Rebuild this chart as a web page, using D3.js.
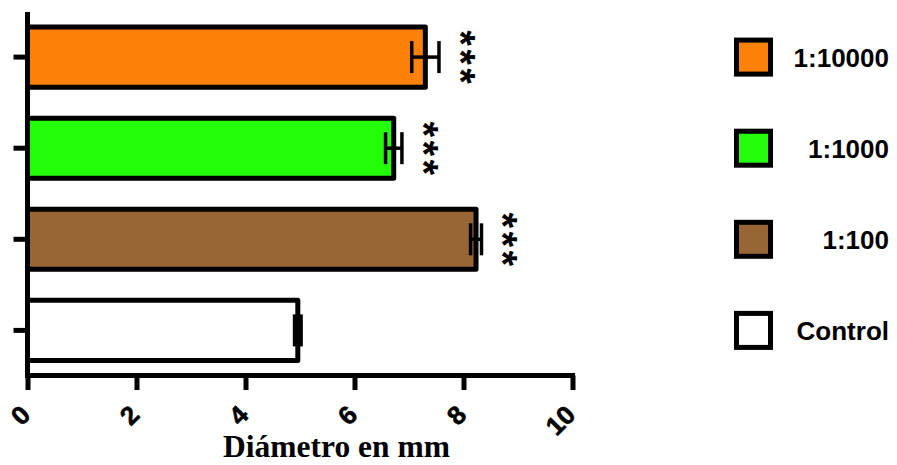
<!DOCTYPE html>
<html>
<head>
<meta charset="utf-8">
<script src="https://cdn.jsdelivr.net/npm/d3@7"></script>
<style>
  body { margin: 0; background: #fff; }
  svg { display: block; }
</style>
</head>
<body>
<svg id="chart" width="897" height="465"></svg>
<script>
// Data, top bar first
const groups = ["1:10000", "1:1000", "1:100", "Control"];
const means = [7.3, 6.72, 8.23, 4.96];
const errors = [0.25, 0.15, 0.1, 0.06];
const stars = ["***", "***", "***", ""];
const colors = ["#FC8108", "#22FF08", "#976634", "#FFFFFF"];
const xTicks = [0, 2, 4, 6, 8, 10];
const xTitle = "Diámetro en mm";

const svg = d3.select("#chart");

// Scales
const x = d3.scaleLinear().domain([0, 10]).range([27.5, 572.5]);
const y = d3.scaleBand()
    .domain(groups)
    .range([12, 375.5])
    .paddingInner(0.34)
    .paddingOuter(0.165);

const rows = groups.map((g, i) => ({ g, mean: means[i], err: errors[i], stars: stars[i], color: colors[i] }));

// Bars
svg.append("g").selectAll("rect")
    .data(rows)
    .enter().append("rect")
    .attr("x", x(0))
    .attr("y", d => y(d.g))
    .attr("width", d => x(d.mean) - x(0))
    .attr("height", y.bandwidth())
    .attr("fill", d => d.color)
    .attr("stroke", "#000")
    .attr("stroke-width", 5)
    .attr("stroke-linejoin", "round");

// Error bars
const capH = 32;
const eb = svg.append("g").attr("stroke", "#000").attr("stroke-width", 3.5).attr("fill", "none");
rows.forEach(d => {
    const cy = y(d.g) + y.bandwidth() / 2;
    eb.append("line").attr("x1", x(d.mean - d.err)).attr("x2", x(d.mean + d.err)).attr("y1", cy).attr("y2", cy);
    [d.mean - d.err, d.mean + d.err].forEach(v => {
        eb.append("line").attr("x1", x(v)).attr("x2", x(v)).attr("y1", cy - capH / 2).attr("y2", cy + capH / 2);
    });
});

// Significance stars, rotated text reading top to bottom, one tspan per star
const starSize = 40;
const starStep = 19;
const starText = svg.append("g").selectAll("text")
    .data(rows.filter(d => d.stars))
    .enter().append("text")
    .attr("transform", d => {
        const cy = y(d.g) + y.bandwidth() / 2;
        const sx = x(d.mean + d.err) + 28 - starSize * 0.5;
        return `translate(${sx},${cy}) rotate(90)`;
    })
    .attr("text-anchor", "middle")
    .attr("font-family", "Liberation Sans, Arial, sans-serif")
    .attr("font-weight", "bold")
    .attr("font-size", starSize);
starText.selectAll("tspan")
    .data(d => d.stars.split(""))
    .enter().append("tspan")
    .attr("x", (s, k) => (k - 1) * starStep)
    .text(s => s);

// X axis
const xAxis = svg.append("g")
    .attr("transform", `translate(0,${375.5})`)
    .call(d3.axisBottom(x).tickValues(xTicks).tickSize(14.5).tickSizeOuter(0).tickFormat(d3.format("d")));
xAxis.select(".domain").attr("stroke", "#000").attr("stroke-width", 5).attr("d", `M${x(0) - 2.5},0H${x(10) + 2.5}`);
xAxis.selectAll(".tick line").attr("stroke", "#000").attr("stroke-width", 5);
xAxis.selectAll(".tick text")
    .attr("font-family", "Liberation Sans, Arial, sans-serif")
    .attr("font-weight", "bold")
    .attr("font-size", 26)
    .attr("fill", "#000")
    .attr("stroke", "#000")
    .attr("stroke-width", 0.6)
    .attr("text-anchor", "end")
    .attr("dy", null)
    .attr("y", null)
    .attr("transform", "translate(4,41) rotate(-45)");

// Y axis (ticks only, no labels)
const yAxis = svg.append("g")
    .attr("transform", `translate(${x(0)},0)`)
    .call(d3.axisLeft(y).tickSize(14).tickSizeOuter(0).tickFormat(""));
yAxis.select(".domain").attr("stroke", "#000").attr("stroke-width", 5).attr("d", `M0,12V378`);
yAxis.selectAll(".tick line").attr("stroke", "#000").attr("stroke-width", 5);

// X title
svg.append("text")
    .attr("x", 336.5)
    .attr("y", 457)
    .attr("text-anchor", "middle")
    .attr("font-family", "Liberation Serif, Times New Roman, serif")
    .attr("font-weight", "bold")
    .attr("font-size", 31.5)
    .attr("fill", "#000")
    .text(xTitle);

// Legend, rows aligned to the bars
const legend = svg.append("g").selectAll("g")
    .data(rows)
    .enter().append("g")
    .attr("transform", d => `translate(0,${y(d.g) + y.bandwidth() / 2})`);
legend.append("rect")
    .attr("x", 736.5)
    .attr("y", -17)
    .attr("width", 34)
    .attr("height", 34)
    .attr("fill", d => d.color)
    .attr("stroke", "#000")
    .attr("stroke-width", 5);
legend.append("text")
    .attr("x", 889)
    .attr("y", 9.5)
    .attr("text-anchor", "end")
    .attr("font-family", "Liberation Sans, Arial, sans-serif")
    .attr("font-weight", "bold")
    .attr("font-size", 26)
    .attr("fill", "#000")
    .text(d => d.g);
</script>
</body>
</html>
